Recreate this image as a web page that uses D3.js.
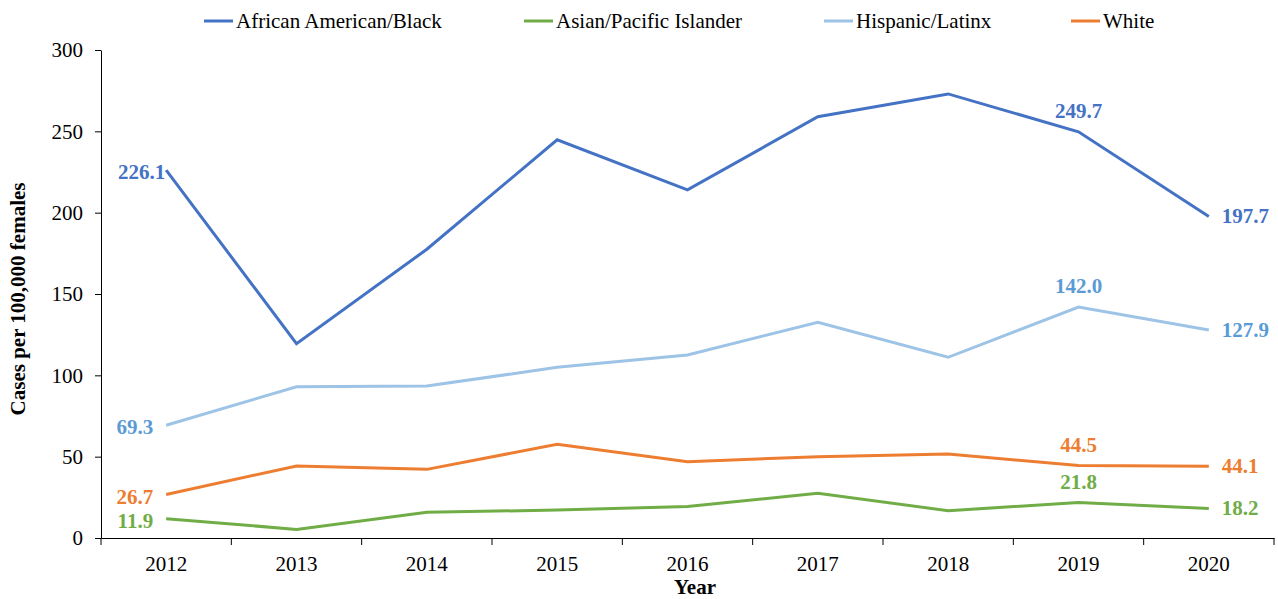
<!DOCTYPE html>
<html>
<head>
<meta charset="utf-8">
<script src="https://cdn.jsdelivr.net/npm/d3@7"></script>
<style>
  html, body { margin: 0; padding: 0; background: #fff; }
  svg { display: block; }
  text { font-family: "Liberation Serif", "Times New Roman", serif; }
</style>
</head>
<body>
<svg id="chart" width="1278" height="599"></svg>
<script>
// ---- Data ----
const years = ["2012", "2013", "2014", "2015", "2016", "2017", "2018", "2019", "2020"];
const seriesNames = ["African American/Black", "Asian/Pacific Islander", "Hispanic/Latinx", "White"];
const blackValues    = [226.1, 119.5, 177.5, 244.8, 214.0, 259.0, 273.0, 249.7, 197.7];
const asianValues    = [11.9, 5.3, 15.8, 17.2, 19.3, 27.5, 16.8, 21.8, 18.2];
const hispanicValues = [69.3, 93.0, 93.4, 104.9, 112.5, 132.6, 111.1, 142.0, 127.9];
const whiteValues    = [26.7, 44.3, 42.2, 57.6, 46.9, 50.0, 51.6, 44.5, 44.1];
const yTicks = [0, 50, 100, 150, 200, 250, 300];
const labelledIndices = [0, 7, 8]; // first, 2019, last

// ---- Styles ----
const FONT = "Liberation Serif, Times New Roman, serif";
const lineColors  = ["#4472C4", "#70AD47", "#9DC3E6", "#ED7D31"];
const labelColors = ["#4472C4", "#70AD47", "#5B9BD5", "#ED7D31"];

const series = seriesNames.map((name, i) => ({
  name,
  values: [blackValues, asianValues, hispanicValues, whiteValues][i],
  line: lineColors[i],
  label: labelColors[i]
}));

const svg = d3.select("#chart");
const plotLeft = 101, plotRight = 1274, plotTop = 50, plotBottom = 538;

const x = d3.scaleBand().domain(years).range([plotLeft, plotRight]).padding(0);
const y = d3.scaleLinear().domain([0, 300]).range([plotBottom, plotTop]);
const cx = yr => x(yr) + x.bandwidth() / 2;

// Y axis
const yAxis = svg.append("g")
  .attr("transform", `translate(${plotLeft},0)`)
  .call(d3.axisLeft(y).tickValues(yTicks).tickSize(6).tickPadding(12).tickSizeOuter(0));
yAxis.select(".domain").attr("stroke", "#000");
yAxis.selectAll(".tick line").attr("stroke", "#000");
yAxis.selectAll(".tick text")
  .attr("font-family", FONT)
  .attr("font-size", 21).attr("fill", "#000");

// X axis: labels at band centres, ticks at band boundaries
const xAxis = svg.append("g")
  .attr("transform", `translate(0,${plotBottom})`)
  .call(d3.axisBottom(x).tickSize(0).tickPadding(18).tickSizeOuter(0));
xAxis.select(".domain").attr("stroke", "#000");
xAxis.selectAll(".tick text")
  .attr("font-family", FONT)
  .attr("font-size", 21).attr("fill", "#000");
const boundaries = years.map(yr => x(yr)).concat([x(years[years.length - 1]) + x.bandwidth()]);
svg.append("g").selectAll("line").data(boundaries).join("line")
  .attr("x1", d => d).attr("x2", d => d)
  .attr("y1", plotBottom).attr("y2", plotBottom + 7)
  .attr("stroke", "#000").attr("stroke-width", 1);

// Axis titles
svg.append("text")
  .attr("transform", `translate(18,${(plotTop + plotBottom) / 2 + 5}) rotate(-90)`)
  .attr("text-anchor", "middle").attr("dominant-baseline", "central")
  .attr("font-family", FONT)
  .attr("font-size", 21).attr("font-weight", "bold")
  .text("Cases per 100,000 females");
svg.append("text")
  .attr("x", 695).attr("y", 594)
  .attr("text-anchor", "middle")
  .attr("font-family", FONT)
  .attr("font-size", 21).attr("font-weight", "bold")
  .text("Year");

// Lines
const line = d3.line().x((d, i) => cx(years[i])).y(d => y(d));
svg.append("g").selectAll("path").data(series).join("path")
  .attr("d", s => line(s.values))
  .attr("fill", "none")
  .attr("stroke", s => s.line)
  .attr("stroke-width", 3)
  .attr("stroke-linejoin", "miter");

// Data labels
const labelData = [];
series.forEach(s => {
  labelledIndices.forEach(i => labelData.push({ s, i, v: s.values[i] }));
});
svg.append("g").selectAll("text").data(labelData).join("text")
  .attr("font-family", FONT)
  .attr("font-size", 21).attr("font-weight", "bold")
  .attr("fill", d => d.s.label)
  .attr("dominant-baseline", "central")
  .attr("text-anchor", d => d.i === 0 ? "end" : d.i === years.length - 1 ? "start" : "middle")
  .attr("x", d => {
    const px = cx(years[d.i]);
    if (d.i === 0) return d.v > 200 ? px - 1 : px - 13;
    if (d.i === years.length - 1) return px + 13;
    return px;
  })
  .attr("y", d => d.i === 7 ? y(d.v) - 21 : y(d.v) + (d.i === 0 ? 2 : 0))
  .text(d => d.v.toFixed(1));

// Legend
const legendX = [204, 524, 824, 1071];
const legendY = 21;
const lg = svg.append("g").selectAll("g").data(series).join("g")
  .attr("transform", (d, i) => `translate(${legendX[i]},${legendY})`);
lg.append("line").attr("x1", 0).attr("x2", 29).attr("y1", 0).attr("y2", 0)
  .attr("stroke", d => d.line).attr("stroke-width", 3);
lg.append("text").attr("x", 32).attr("y", 0)
  .attr("dominant-baseline", "central")
  .attr("font-family", FONT)
  .attr("font-size", 21).attr("fill", "#000")
  .text(d => d.name);
</script>
</body>
</html>
